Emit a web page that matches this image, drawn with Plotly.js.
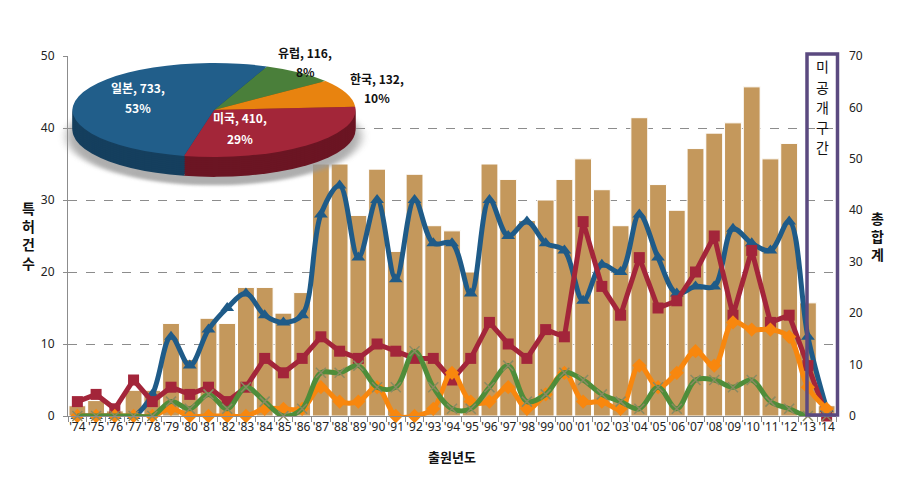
<!DOCTYPE html>
<html>
<head>
<meta charset="utf-8">
<script src="https://cdn.plot.ly/plotly-3.0.1.min.js"></script>
<style>
  body { margin: 0; background: #fff; }
  #wrap { position: relative; width: 903px; height: 484px; overflow: hidden; }
  #chart { position: absolute; left: 0; top: 0; width: 903px; height: 484px; }
  #pieShadow, #pie { position: absolute; left: 63.5px; top: 63px; width: 300px; height: 370px;
    transform: scaleY(0.332); transform-origin: 0 0; }
  #pieShadow { filter: blur(5px); opacity: 0.8; }
  #labels { position: absolute; left: 0; top: 0; width: 903px; height: 484px; pointer-events: none; }
</style>
</head>
<body>
<div id="wrap">
  <div id="chart"></div>
  <div id="pieShadow"></div>
  <div id="pie"></div>
  <div id="labels"></div>
</div>
<script>
// ---------------- data ----------------
const years = ["'74","'75","'76","'77","'78","'79","'80","'81","'82","'83","'84","'85","'86","'87",
  "'88","'89","'90","'91","'92","'93","'94","'95","'96","'97","'98","'99","'00","'01","'02","'03",
  "'04","'05","'06","'07","'08","'09","'10","'11","'12","'13","'14"];
const total  = [2,3,1,5,5,18,11,19,18,25,25,20,24,49,49,39,48,32,47,37,36,28,49,46,38,42,46,50,44,37,58,45,40,52,55,57,64,50,53,22,2];
const japan  = [0,0,0,0,3,11,7,12,15,17,14,13,14,28,32,22,30,19,30,24,24,17,30,25,27,24,23,16,21,20,28,22,17,18,18,26,24,23,27,11,1];
const usa    = [2,3,1,5,2,4,3,4,2,4,8,6,8,11,9,8,10,9,8,8,5,8,13,10,8,12,11,27,18,14,22,15,16,20,25,14,23,13,14,7,0];
const korea  = [0,0,0,0,0,1,0,0,0,0,1,1,1,4,2,2,4,0,0,1,6,2,2,4,1,3,6,2,2,1,7,4,6,9,7,13,12,12,11,4,1];
const europe = [0,0,0,0,0,2,1,3,1,4,2,0,1,6,6,7,4,4,9,4,1,1,4,7,2,3,6,5,3,2,1,4,1,5,5,4,5,2,1,0,0];

const pieLabels = ["유럽", "한국", "미국", "일본"];
const pieValues = [116, 132, 410, 733];
const pieShares = ["8%", "10%", "29%", "53%"];

const boxChars = ["미", "공", "개", "구", "간"];

// ---------------- styles ----------------
const FONT = '"Noto Sans CJK KR", "Noto Sans", sans-serif';
const C = { bar: '#C4985C', jp: '#1F5B88', us: '#A3253A', kr: '#F8870E', eu: '#4F8D3A', box: '#5B4A80' };

const traces = [
  { type: 'bar', x: years, y: total, yaxis: 'y', hoverinfo: 'skip',
    marker: { color: C.bar, line: { color: '#ffffff', width: 1 } } },
  { type: 'scatter', mode: 'lines+markers', x: years, y: japan, yaxis: 'y2', cliponaxis: false,
    line: { color: C.jp, width: 5, shape: 'spline', smoothing: 1 },
    marker: { symbol: 'triangle-up', size: 12, color: C.jp } },
  { type: 'scatter', mode: 'lines+markers', x: years, y: usa, yaxis: 'y2', cliponaxis: false,
    line: { color: C.us, width: 5 },
    marker: { symbol: 'square', size: 11, color: C.us } },
  { type: 'scatter', mode: 'lines+markers', x: years, y: korea, yaxis: 'y2', cliponaxis: false,
    line: { color: C.kr, width: 5, shape: 'spline', smoothing: 1 },
    marker: { symbol: 'diamond', size: 11, color: C.kr } },
  { type: 'scatter', mode: 'lines+markers', x: years, y: europe, yaxis: 'y2', cliponaxis: false,
    line: { color: C.eu, width: 5, shape: 'spline', smoothing: 1 },
    marker: { symbol: 'x-thin', size: 10, color: '#8a8a62', line: { color: '#8a8a62', width: 1.5 } } }
];

const L = 68, R = 836, T = 56, B = 416;
const px = x => (x - L) / (R - L);
const py = y => (B - y) / (B - T);

const annotations = [
  { xref: 'paper', yref: 'paper', x: 0.5, y: py(456), xanchor: 'center', yanchor: 'middle',
    text: '<b>출원년도</b>', showarrow: false, font: { size: 13, color: '#111' } },
  { xref: 'paper', yref: 'paper', x: px(28), y: py(235), xanchor: 'center', yanchor: 'middle',
    text: '<b>특<br>허<br>건<br>수</b>', showarrow: false, font: { size: 14, color: '#111' } },
  { xref: 'paper', yref: 'paper', x: px(877), y: py(236), xanchor: 'center', yanchor: 'middle',
    text: '<b>총<br>합<br>계</b>', showarrow: false, font: { size: 14, color: '#111' } }
];
const boxY = [66, 87, 107, 127, 147];
boxChars.forEach((ch, i) => {
  annotations.push({ xref: 'paper', yref: 'paper', x: px(822), y: py(boxY[i]), xanchor: 'center', yanchor: 'middle',
    text: ch, showarrow: false, font: { size: 14, color: '#111' } });
});

const layout = {
  width: 903, height: 484,
  margin: { l: 68, r: 67, t: 56, b: 68 },
  paper_bgcolor: '#ffffff', plot_bgcolor: 'rgba(0,0,0,0)',
  showlegend: false, bargap: 0.1,
  font: { family: FONT, size: 12, color: '#222' },
  xaxis: { type: 'category', showline: true, linecolor: '#8c8c8c', ticks: 'outside', tickson: 'boundaries',
    ticklen: 5, tickcolor: '#8c8c8c', tickangle: 0,
    tickfont: { size: 12, color: '#222', family: '"Noto Sans", sans-serif' }, showgrid: false, range: [-0.5, 40.5] },
  yaxis: { side: 'right', range: [0, 70], dtick: 10, showgrid: false, zeroline: false, showline: false,
    ticks: '', ticklabelstandoff: 12, tickfont: { size: 12, color: '#222', family: '"Noto Sans", sans-serif' } },
  yaxis2: { overlaying: 'y', side: 'left', range: [0, 50], dtick: 10, showgrid: true, griddash: 'dash',
    gridcolor: '#8c8c8c', gridwidth: 1, zeroline: false, showline: true, linecolor: '#8c8c8c',
    ticks: 'outside', ticklen: 4, tickcolor: '#8c8c8c', ticklabelstandoff: 6,
    tickfont: { size: 12, color: '#222', family: '"Noto Sans", sans-serif' } },
  shapes: [
    { type: 'rect', xref: 'paper', yref: 'paper', x0: px(807), x1: px(837.5), y0: py(415), y1: py(54),
      line: { color: C.box, width: 3.5 }, layer: 'above' }
  ],
  annotations: annotations
};

Plotly.newPlot('chart', traces, layout, { staticPlot: true });

// ---------------- 3D-looking pie ----------------
const topColors  = ['#4A7F3A', '#E8830F', '#A32639', '#215E8A'];
const sideColors = ['#2F5326', '#9C5608', '#6B1523', '#153F5E'];
const PH = 370, PD = 283;
const pieTraces = [];
for (let d = 60; d >= 6; d -= 6) {
  pieTraces.push({ type: 'pie', values: pieValues, labels: pieLabels, sort: false, direction: 'clockwise',
    rotation: 22, textinfo: 'none', hoverinfo: 'skip',
    marker: { colors: sideColors, line: { width: 0 } },
    domain: { x: [0.0283, 0.9717], y: [(PH - PD - d) / PH, (PH - d) / PH] } });
}
pieTraces.push({ type: 'pie', values: pieValues, labels: pieLabels, sort: false, direction: 'clockwise',
  rotation: 22, textinfo: 'none', hoverinfo: 'skip',
  marker: { colors: topColors, line: { width: 0 } },
  domain: { x: [0.0283, 0.9717], y: [(PH - PD) / PH, 1] } });

const pieLayout = { width: 300, height: PH, margin: { l: 0, r: 0, t: 0, b: 0 },
  paper_bgcolor: 'rgba(0,0,0,0)', plot_bgcolor: 'rgba(0,0,0,0)', showlegend: false };
Plotly.newPlot('pie', pieTraces, pieLayout, { staticPlot: true });

Plotly.newPlot('pieShadow', [{ type: 'pie', values: pieValues, labels: pieLabels, sort: false,
  textinfo: 'none', hoverinfo: 'skip',
  marker: { colors: ['#9a9a9a', '#9a9a9a', '#9a9a9a', '#9a9a9a'], line: { width: 0 } },
  domain: { x: [0.01, 0.99], y: [0.004, 0.7986] } }], pieLayout, { staticPlot: true });

// ---------------- pie labels overlay ----------------
const labelPos = [[305, 52, 71, '#111'], [377, 78, 97, '#111'], [240, 117, 138, '#fff'], [138, 87, 107, '#fff']];
const labAnn = [];
pieLabels.forEach((lab, i) => {
  const [x, y1, y2, col] = labelPos[i];
  labAnn.push({ x: x, y: y1, xanchor: 'center', yanchor: 'middle', text: '<b>' + lab + ', ' + pieValues[i] + ',</b>',
    showarrow: false, font: { size: 12, color: col, family: FONT } });
  labAnn.push({ x: x, y: y2, xanchor: 'center', yanchor: 'middle', text: '<b>' + pieShares[i] + '</b>',
    showarrow: false, font: { size: 12, color: col, family: FONT } });
});
Plotly.newPlot('labels', [], {
  width: 903, height: 484, margin: { l: 0, r: 0, t: 0, b: 0 },
  paper_bgcolor: 'rgba(0,0,0,0)', plot_bgcolor: 'rgba(0,0,0,0)',
  xaxis: { range: [0, 903], visible: false, fixedrange: true },
  yaxis: { range: [484, 0], visible: false, fixedrange: true },
  annotations: labAnn
}, { staticPlot: true });
</script>
</body>
</html>
